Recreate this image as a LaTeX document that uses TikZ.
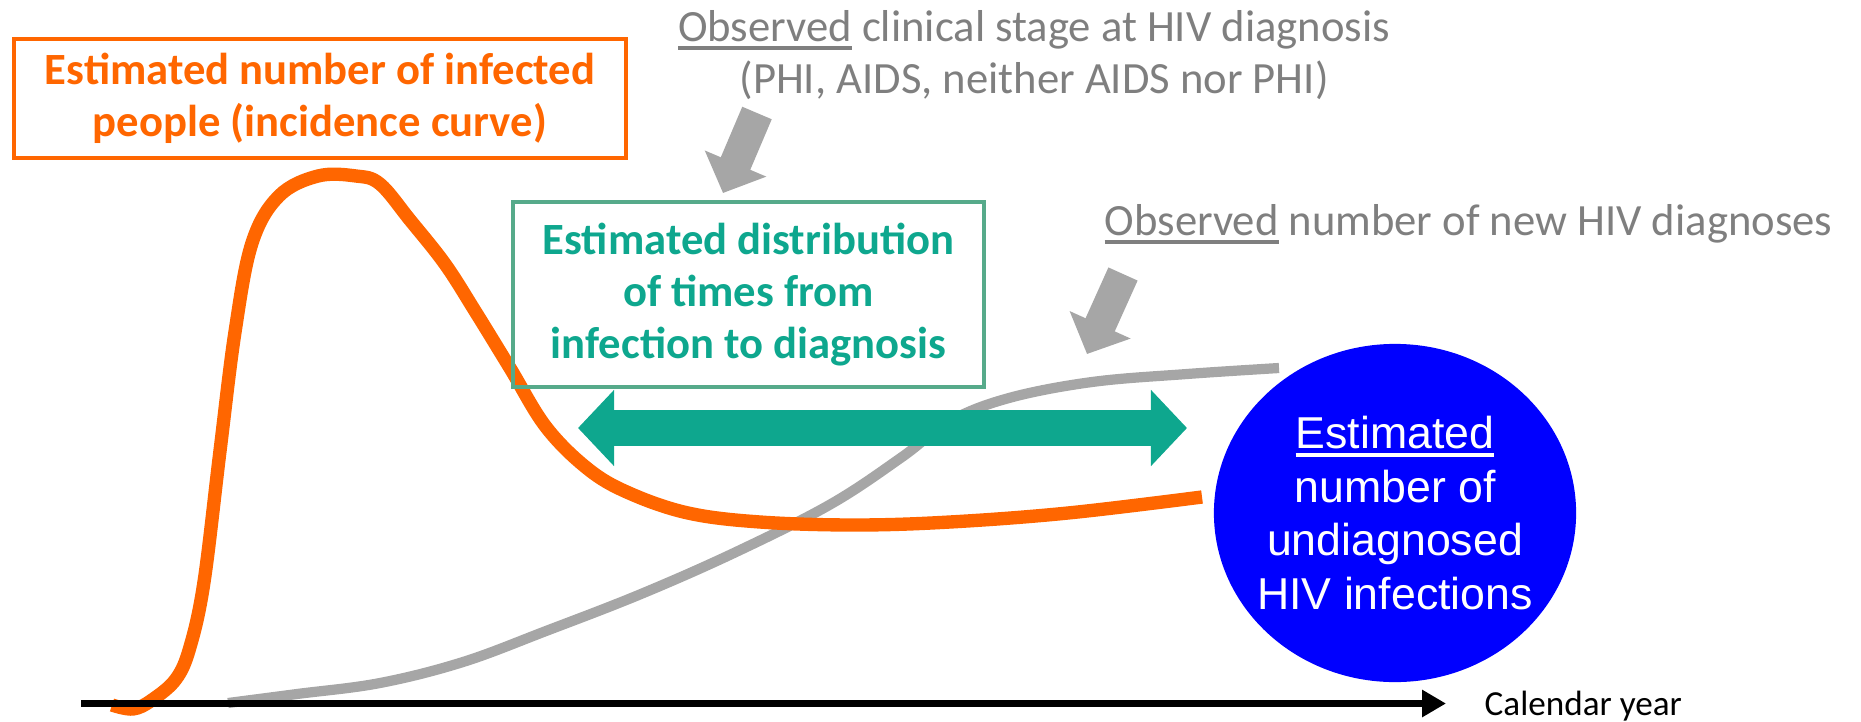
\documentclass[tikz,border=0pt]{standalone}
\usepackage{fontspec}
\setmainfont{Carlito}
\newfontfamily\arialfont{Liberation Sans}
\usetikzlibrary{positioning}
\usetikzlibrary{calc}
\usetikzlibrary{arrows.meta}
\usetikzlibrary{shapes.geometric}
\definecolor{incorange}{HTML}{FF6600}
\definecolor{obsgray}{HTML}{A6A6A6}
\definecolor{txtgray}{HTML}{7F7F7F}
\definecolor{distteal}{HTML}{0EA78E}
\definecolor{boxgreen}{HTML}{56AA8A}
\newcommand{\obsul}[1]{\setbox0=\hbox{#1}\rlap{\rule[-0.19em]{\wd0}{0.08em}}\box0\relax}

\begin{document}
\begin{tikzpicture}[x=0.01cm, y=-0.01cm,
                    every node/.style={inner sep=0pt, font=\fontsize{12.7}{14.8}\selectfont},
                    estbox/.style={draw=#1, line width=1.2pt, align=center, font=\fontsize{12.7}{14.8}\selectfont\bfseries},
                    obsarrow/.style={draw=obsgray, line width=0.32cm, -{Triangle[length=0.32cm, width=0.65cm]}},
                    curve/.style={line width=3.8pt, line join=round}]
            \useasboundingbox (0,0) rectangle (1861,721);

            % curves
            \draw[curve, obsgray, line width=2.9pt] plot[smooth, tension=0.6] coordinates {
                (228,703) (297,694) (380,683) (463,662) (546,631) (641,594) (736,552)
                (831,504) (902,457) (950,421) (1009,398) (1092,382) (1187,374) (1279,368)};
            \draw[curve, incorange] plot[smooth, tension=0.6] coordinates {
                (112,705) (133,709) (152,700) (176,679) (190,647) (204,582) (220,451)
                (235,332) (252,243) (279,196) (318,176) (356,176) (380,184) (410,220)
                (445,264) (475,311) (510,368) (546,427) (588,469) (629,493) (688,513)
                (760,522) (855,525) (950,522) (1068,513) (1202,497)};

            % boxes and labels
            \node[estbox=incorange, text=incorange, minimum width=6.12cm, minimum height=1.19cm]
                (incidence) at (320,98.5) {Estimated number of infected\\people (incidence curve)};
            \node[estbox=boxgreen, text=distteal, minimum width=4.71cm, minimum height=1.85cm]
                (distbox) at (748.5,294.5) {Estimated distribution\\of times from\\infection to diagnosis};
            \node[text=txtgray, align=center] (stage) at (1034,55)
                {\obsul{Observed} clinical stage at HIV diagnosis\\(PHI, AIDS, neither AIDS nor PHI)};
            \node[text=txtgray, anchor=west] (newdiag) at (1104,224)
                {\obsul{Observed} number of new HIV diagnoses};

            % undiagnosed
            \node[ellipse, fill=blue, minimum width=3.62cm, minimum height=3.38cm] (undiag) at (1395,513) {};
            \node[text=white, align=center, font=\fontsize{12.7}{15.3}\selectfont\arialfont]
                (undiagtext) at (undiag.center) {\obsul{Estimated}\\number of\\undiagnosed\\HIV infections};

            % arrows
            \coordinate (stagetail) at (757,113);
            \coordinate (stagetip) at (723,193);
            \draw[obsarrow] (stagetail) -- (stagetip);
            \coordinate (newtail) at (1123,274);
            \coordinate (newtip) at (1087,354);
            \draw[obsarrow] (newtail) -- (newtip);
            \coordinate (spanl) at (578,428);
            \coordinate (spanr) at (1187,428);
            \draw[distteal, line width=0.36cm, {Triangle[length=0.36cm, width=0.74cm]}-{Triangle[length=0.36cm, width=0.74cm]}]
                (spanl) -- (spanr);

            % time axis
            \coordinate (origin) at (81,703.5);
            \coordinate (axisend) at (1446,703.5);
            \draw[line width=2.2pt, -{Triangle[length=0.24cm, width=0.26cm]}] (origin) -- (axisend);
            \node[anchor=west, font=\fontsize{10}{12}\selectfont] (year) at (1484,706) {Calendar year};
        \end{tikzpicture}
\end{document}
